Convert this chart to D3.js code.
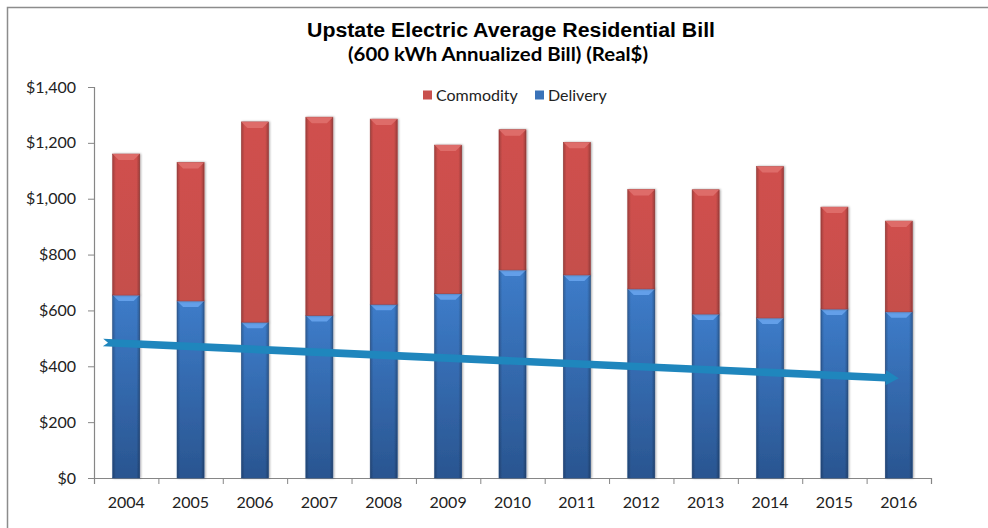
<!DOCTYPE html>
<html>
<head>
<meta charset="utf-8">
<script src="https://cdn.jsdelivr.net/npm/d3@7"></script>
<style>
  html, body { margin: 0; padding: 0; background: #fff; overflow: hidden; }
  svg { display: block; }
</style>
</head>
<body>
<div id="chart"></div>
<script>
// Data
const years = ["2004", "2005", "2006", "2007", "2008", "2009", "2010", "2011", "2012", "2013", "2014", "2015", "2016"];
const delivery = [655, 634, 558, 582, 622, 660, 745, 727, 677, 587, 573, 605, 595];
const totalBill = [1160, 1130, 1275, 1292, 1285, 1192, 1247, 1202, 1033, 1032, 1115, 970, 920];
const commodity = totalBill.map((t, i) => t - delivery[i]);
const yTicks = [0, 200, 400, 600, 800, 1000, 1200, 1400];
// trend arrow: [year position, value]
const trendPoints = [[2003.64, 485], [2016, 357]];

const width = 988;
const height = 528;
const margin = { top: 87, right: 57, bottom: 50, left: 94 };
const innerWidth = width - margin.left - margin.right;
const innerHeight = height - margin.top - margin.bottom;

const svg = d3.select("#chart")
    .append("svg")
    .attr("width", width)
    .attr("height", height);

// Gradients for the bevelled bars
const defs = svg.append("defs");
const makeGrad = (id, stops, vertical) => {
    const g = defs.append("linearGradient")
        .attr("id", id)
        .attr("x1", 0).attr("y1", 0)
        .attr("x2", vertical ? 0 : 1).attr("y2", vertical ? 1 : 0);
    stops.forEach(s => g.append("stop").attr("offset", s[0]).attr("stop-color", s[1]));
};
makeGrad("blueV", [[0, "#3d7cc9"], [1, "#2a5590"]], true);
makeGrad("redV", [[0, "#d0504d"], [1, "#c54f4c"]], true);
makeGrad("sideShade", [[0, "rgba(0,0,0,0.22)"], [0.12, "rgba(0,0,0,0)"], [0.88, "rgba(0,0,0,0)"], [1, "rgba(0,0,0,0.25)"]], false);

const shadow = defs.append("filter").attr("id", "shadow")
    .attr("x", "-30%").attr("y", "-5%").attr("width", "160%").attr("height", "110%");
shadow.append("feDropShadow").attr("dx", 1).attr("dy", 0).attr("stdDeviation", 1.2)
    .attr("flood-color", "#000").attr("flood-opacity", 0.35);

// Outer frame
svg.append("path")
    .attr("d", `M7.5,${height} V7.5 H${width}`)
    .attr("fill", "none")
    .attr("stroke", "#8c8c8c")
    .attr("stroke-width", 1.5);

// Title
svg.append("text")
    .attr("x", 511).attr("y", 37)
    .attr("text-anchor", "middle")
    .attr("textLength", 408)
    .attr("lengthAdjust", "spacingAndGlyphs")
    .style("font-family", "'Liberation Sans', Arial, sans-serif")
    .style("font-weight", "bold")
    .style("font-size", "20px")
    .attr("fill", "#000")
    .text("Upstate Electric Average Residential Bill");

svg.append("text")
    .attr("x", 498).attr("y", 61)
    .attr("text-anchor", "middle")
    .attr("textLength", 300)
    .attr("lengthAdjust", "spacingAndGlyphs")
    .style("font-family", "Lato, 'Open Sans', sans-serif")
    .style("font-weight", "bold")
    .style("font-size", "18px")
    .attr("fill", "#000")
    .text("(600 kWh Annualized Bill) (Real$)");

const chart = svg.append("g")
    .attr("transform", `translate(${margin.left},${margin.top})`);

// Scales
const xScale = d3.scaleBand()
    .domain(years)
    .range([0, innerWidth])
    .paddingInner(0.58)
    .paddingOuter(0.29);

const xLinear = d3.scaleLinear()
    .domain([+years[0] - 0.5, +years[years.length - 1] + 0.5])
    .range([0, innerWidth]);

const yScale = d3.scaleLinear()
    .domain([0, 1400])
    .range([innerHeight, 0]);

// Axes
const leftAxis = d3.axisLeft(yScale)
    .tickValues(yTicks)
    .tickSize(6)
    .tickPadding(12)
    .tickFormat(d => "$" + d3.format(",")(d));

const yAxisG = chart.append("g").call(leftAxis);
yAxisG.select(".domain").attr("stroke", "#868686").attr("stroke-width", 1.2);
yAxisG.selectAll(".tick line").attr("stroke", "#868686");
yAxisG.selectAll(".tick text")
    .style("font-family", "Lato, 'Open Sans', sans-serif")
    .style("font-size", "16px")
    .attr("fill", "#222");

const bottomAxis = d3.axisBottom(xLinear)
    .tickValues(d3.range(+years[0] - 0.5, +years[years.length - 1] + 1, 1))
    .tickSize(6)
    .tickFormat("");

const xAxisG = chart.append("g")
    .attr("transform", `translate(0,${innerHeight})`)
    .call(bottomAxis);
xAxisG.select(".domain").attr("stroke", "#868686").attr("stroke-width", 1.2);
xAxisG.selectAll(".tick line").attr("stroke", "#868686");

chart.append("g")
    .selectAll("text")
    .data(years)
    .join("text")
    .attr("x", d => xScale(d) + xScale.bandwidth() / 2)
    .attr("y", innerHeight + 30)
    .attr("text-anchor", "middle")
    .style("font-family", "Lato, 'Open Sans', sans-serif")
    .style("font-size", "16px")
    .attr("fill", "#222")
    .text(d => d);

// Stacked bars
const stackData = years.map((y, i) => ({ year: y, Delivery: delivery[i], Commodity: commodity[i] }));
const series = d3.stack().keys(["Delivery", "Commodity"])(stackData);
const fills = { Delivery: "url(#blueV)", Commodity: "url(#redV)" };
const bevels = { Delivery: "#6aa6ee", Commodity: "#e0716e" };
const edges = { Delivery: "#2b568f", Commodity: "#a84441" };

const bw = xScale.bandwidth();
series.forEach(s => {
    const g = chart.append("g").attr("class", "series-" + s.key);
    const seg = g.selectAll("g")
        .data(s)
        .join("g")
        .attr("filter", "url(#shadow)");
    seg.append("rect")
        .attr("x", d => xScale(d.data.year))
        .attr("y", d => yScale(d[1]))
        .attr("width", bw)
        .attr("height", d => yScale(d[0]) - yScale(d[1]))
        .attr("fill", fills[s.key])
        .attr("stroke", edges[s.key])
        .attr("stroke-width", 0.6);
    seg.append("rect")
        .attr("x", d => xScale(d.data.year))
        .attr("y", d => yScale(d[1]))
        .attr("width", bw)
        .attr("height", d => yScale(d[0]) - yScale(d[1]))
        .attr("fill", "url(#sideShade)");
    // top bevel
    seg.append("path")
        .attr("d", d => {
            const x0 = xScale(d.data.year);
            const y0 = yScale(d[1]);
            return `M${x0},${y0} H${x0 + bw} L${x0 + bw - 6},${y0 + 6} H${x0 + 6} Z`;
        })
        .attr("fill", bevels[s.key])
        .attr("opacity", 0.85);
});

// Trend arrow
const [p0, p1] = trendPoints.map(p => [xLinear(p[0]), yScale(p[1])]);
const dx = p1[0] - p0[0];
const dy = p1[1] - p0[1];
const len = Math.hypot(dx, dy);
const angle = Math.atan2(dy, dx) * 180 / Math.PI;
const w = 3.8, H = 7.5, head = 13, notch = 5;
chart.append("path")
    .attr("transform", `translate(${p0[0]},${p0[1]}) rotate(${angle})`)
    .attr("d", `M0,${-w} L${len - head},${-w} L${len - head},${-H} L${len},0 L${len - head},${H} L${len - head},${w} L0,${w} L${notch},0 Z`)
    .attr("fill", "#1f86bd");

// Legend
const legendItems = [
    { label: "Commodity", color: "#c9504d" },
    { label: "Delivery", color: "#3a72b8" }
];
const legend = svg.append("g").attr("transform", "translate(423,95)");
const legendX = [0, 112];
legendItems.forEach((item, i) => {
    const g = legend.append("g").attr("transform", `translate(${legendX[i]},0)`);
    g.append("rect")
        .attr("x", 0).attr("y", -4.5)
        .attr("width", 9).attr("height", 9)
        .attr("fill", item.color);
    g.append("text")
        .attr("x", 13).attr("y", 5.5)
        .style("font-family", "Lato, 'Open Sans', sans-serif")
        .style("font-size", "16px")
        .attr("fill", "#222")
        .text(item.label);
});
</script>
</body>
</html>
